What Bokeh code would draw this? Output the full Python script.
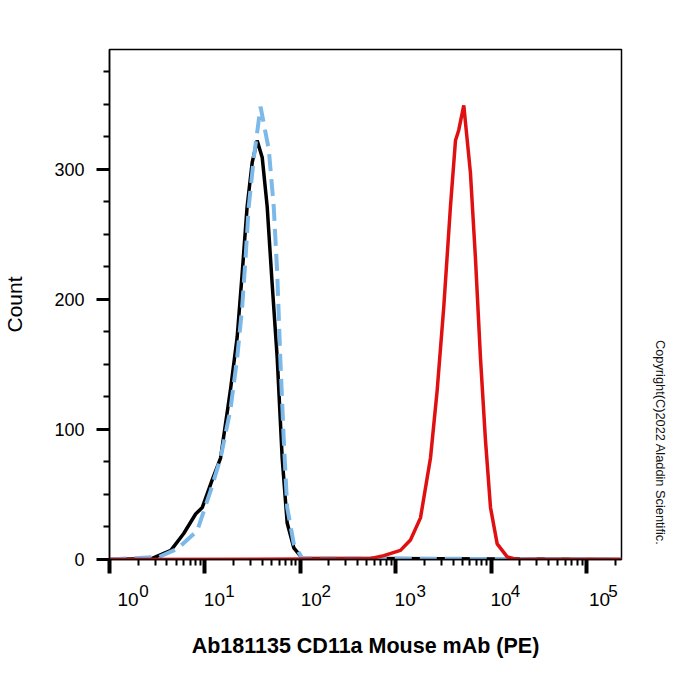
import numpy as np
from bokeh.plotting import figure
from bokeh.models import Range1d, FixedTicker, LogAxis, Title
from bokeh.embed import file_html
from bokeh.resources import INLINE

# ---- data (fluorescence intensity, count) ----
black_x = [1, 2.8, 4.4, 6.0, 8.0, 9.4, 11.9, 14.6, 18.5, 21.8, 24.6, 27.7, 31.3, 35.3,
           39.9, 45.0, 50.7, 57.3, 64.6, 72.9, 85.5, 104.7, 233000]
black_y = [0, 0.8, 7, 20, 35, 40, 61, 78, 130, 171, 220, 271, 305, 322,
           309, 271, 212, 155, 78, 28, 9, 1, 0]

blue_x = [1, 3.3, 5.1, 8.3, 11.5, 14.6, 18.5, 21.8, 24.6, 26.7, 28.8, 32.6, 38.3,
          46.8, 52.7, 57.3, 61.7, 67.1, 72.9, 85.5, 104.7, 233000]
blue_y = [0, 2, 8, 22, 53, 78, 115, 155, 194, 232, 271, 309, 348,
          315, 271, 220, 155, 92, 40, 12, 1, 0]

red_x = [1, 522, 750, 1122, 1429, 1820, 2317, 2723, 3192, 3750, 4236, 4581, 5176,
         6081, 6855, 7745, 8730, 9863, 11590, 14760, 18620, 233000]
red_y = [0, 0.5, 3, 7, 15, 32, 78, 130, 194, 271, 322, 330, 349,
         297, 232, 155, 92, 40, 12, 2, 0, 0]

y_ticks = [0, 100, 200, 300]
y_minor = [25, 50, 75, 125, 150, 175, 225, 250, 275, 325, 350, 375]
x_exponents = [0, 1, 2, 3, 4, 5]
x_decades = [10 ** e for e in x_exponents]
x_minor = [m * d for d in x_decades for m in range(2, 10)]

# label placement style (pixels to the right of each decade tick)
PX_PER_DECADE = 95.4
base_off_px = [18.5, 9.5, 11, 9.5, 10, 13]
exp_off_px = [34.5, 25, 26, 25.5, 24.5, 26.5]

FONT = "Liberation Sans"

p = figure(width=700, height=700, x_axis_type="log", output_backend="svg",
           toolbar_location=None,
           x_range=Range1d(1, 233000), y_range=Range1d(0, 392),
           min_border_left=109, min_border_right=79, min_border_top=49,
           min_border_bottom=141)
p.background_fill_color = "white"
p.border_fill_color = "white"
p.xgrid.visible = False
p.ygrid.visible = False
p.outline_line_color = "black"
p.outline_line_width = 1.5

# curves
p.line(black_x, black_y, line_color="black", line_width=3.5)
p.line(blue_x, blue_y, line_color="#7db9e8", line_width=4, line_dash="17 8")
p.line(red_x, red_y, line_color="#e01010", line_width=3.5)

# y axis
ya = p.yaxis[0]
ya.ticker = FixedTicker(ticks=y_ticks, minor_ticks=y_minor)
ya.axis_line_width = 1.5
ya.major_tick_out = 13
ya.major_tick_in = 0
ya.major_tick_line_width = 3
ya.minor_tick_out = 6
ya.minor_tick_in = 0
ya.minor_tick_line_width = 2
ya.major_label_standoff = 12
ya.major_label_text_font = FONT
ya.major_label_text_font_size = "18px"
ya.major_label_text_color = "black"
ya.axis_label = "Count"
ya.axis_label_text_font = FONT
ya.axis_label_text_font_size = "21px"
ya.axis_label_text_font_style = "normal"
ya.axis_label_text_color = "black"
ya.axis_label_standoff = 25

# x axis: ticks only
xa = p.xaxis[0]
xa.ticker = FixedTicker(ticks=x_decades, minor_ticks=x_minor)
xa.axis_line_width = 1.5
xa.major_tick_out = 14
xa.major_tick_in = 0
xa.major_tick_line_width = 4
xa.minor_tick_out = 6
xa.minor_tick_in = 0
xa.minor_tick_line_width = 2
xa.major_label_standoff = 0
xa.major_label_overrides = {d: "" for d in x_decades}


def label_axis(positions, texts, size, standoff):
    ax = LogAxis(ticker=FixedTicker(ticks=positions, minor_ticks=[]))
    ax.axis_line_color = None
    ax.major_tick_line_color = None
    ax.minor_tick_line_color = None
    ax.major_tick_out = 0
    ax.major_tick_in = 0
    ax.minor_tick_out = 0
    ax.minor_tick_in = 0
    ax.major_label_standoff = standoff
    ax.major_label_text_font = FONT
    ax.major_label_text_font_size = size
    ax.major_label_text_color = "black"
    ax.major_label_overrides = {pos: t for pos, t in zip(positions, texts)}
    return ax


exp_pos = [10 ** (e + o / PX_PER_DECADE) for e, o in zip(x_exponents, exp_off_px)]
base_pos = [10 ** (e + o / PX_PER_DECADE) for e, o in zip(x_exponents, base_off_px)]

ax_exp = label_axis(exp_pos, [str(e) for e in x_exponents], "17px", 11)
p.add_layout(ax_exp, "below")

ax_base = label_axis(base_pos, ["10"] * len(x_exponents), "19px", -7)
ax_base.axis_label = "Ab181135 CD11a Mouse mAb (PE)"
ax_base.axis_label_text_font = FONT
ax_base.axis_label_text_font_size = "21.5px"
ax_base.axis_label_text_font_style = "bold"
ax_base.axis_label_text_color = "black"
ax_base.axis_label_standoff = 25
p.add_layout(ax_base, "below")

# copyright (right side, reading downwards)
p.add_layout(Title(text="Copyright(C)2022 Aladdin Scientific.", align="right",
                   offset=14, standoff=62, text_font=FONT,
                   text_font_size="12.8px", text_font_style="normal",
                   text_color="#111111"), "right")

open("out.html", "w").write(file_html(p, INLINE))
